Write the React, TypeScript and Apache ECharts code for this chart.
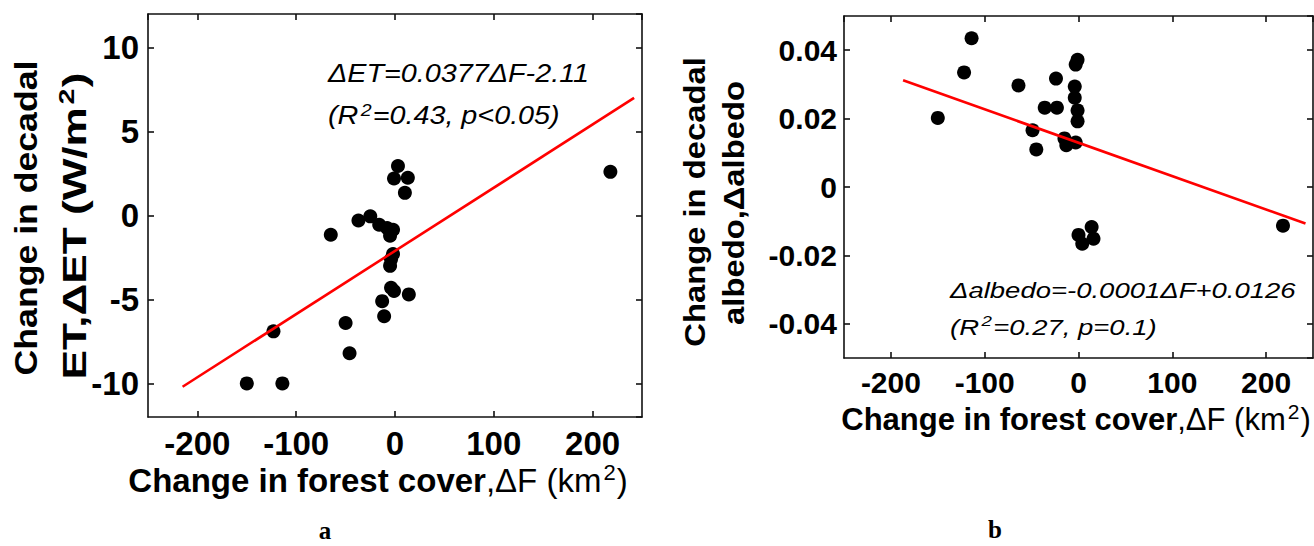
import React, { useEffect, useRef } from 'react';
import * as echarts from 'echarts';

// ---- Panel a: decadal ET change vs forest cover change ----
const etForestChange = [-150, -114, -123, -50, -46, -65, -37, -25, -16, -8, -2, -5, -2, -4, -5, -4, -1, 14, -13, -11, 3, -1, 13, 10, 218];
const etChange = [-10.0, -10.0, -6.9, -6.4, -8.2, -1.15, -0.3, -0.05, -0.55, -0.75, -0.85, -1.2, -2.3, -2.6, -3.0, -4.3, -4.5, -4.7, -5.1, -6.0, 2.95, 2.2, 2.25, 1.35, 2.6];
const etFitX = [-215, 242];
const etFitY = [-10.2, 7.0];

// ---- Panel b: decadal albedo change vs forest cover change ----
const albedoForestChange = [-150, -122, -114, -64, -49, -45, -36, -23, -24, -15, -13, -3, -1, -3, -4, -4, -1, -1, 0, 4, 14, 16, 218];
const albedoChange = [0.0202, 0.0335, 0.0435, 0.0297, 0.0166, 0.011, 0.0232, 0.0232, 0.0317, 0.0142, 0.0122, 0.013, 0.0372, 0.0358, 0.0294, 0.0261, 0.0224, 0.0192, -0.014, -0.0166, -0.0117, -0.0151, -0.0113];
const albedoFitX = [-187, 242];
const albedoFitY = [0.0312, -0.0107];

// ---- Tick labels ----
const forestTicks = [-200, -100, 0, 100, 200];
const etTicks = [-10, -5, 0, 5, 10];
const albedoTicks = [-0.04, -0.02, 0, 0.02, 0.04];

const SANS = '"Liberation Sans", Arial, Helvetica, sans-serif';
const SERIF = '"Liberation Serif", "Times New Roman", serif';

const lineStyle = { color: '#111', width: 1.6 };

const near = (list: number[], v: number) => list.some((t) => Math.abs(t - v) < 1e-9);

function fmtAlbedo(v: number) {
  if (Math.abs(v) < 1e-9) return '0';
  return v.toFixed(2);
}

function makeAxis(gridIndex: number, min: number, max: number, opts: any) {
  const { position, labels, fontSize, ticks, formatter, margin, tickLen } = opts;
  return {
    type: 'value',
    gridIndex,
    position,
    min,
    max,
    splitNumber: 5,
    axisLine: { show: true, onZero: false, lineStyle },
    axisTick: { show: true, inside: true, length: tickLen, lineStyle },
    splitLine: { show: false },
    axisLabel: {
      show: labels,
      margin,
      fontSize,
      fontWeight: 'bold',
      fontFamily: SANS,
      color: '#000',
      showMinLabel: false,
      showMaxLabel: false,
      formatter: (v: number) => (near(ticks, v) ? formatter(v) : ''),
    },
  };
}

// Rich styles giving a raised superscript: base tokens are centred in a tall
// line box, the superscript (short line box) sits at the top of that line.
function supRich(baseFonts: Record<string, string>, baseLH: number, supFont: string, supLH: number) {
  const rich: any = {
    s: { font: supFont, lineHeight: supLH, verticalAlign: 'top', padding: [0, 1, 0, 2], fill: '#000' },
  };
  for (const k of Object.keys(baseFonts)) {
    rich[k] = { font: baseFonts[k], lineHeight: baseLH, verticalAlign: 'middle', fill: '#000' };
  }
  return rich;
}

export default function App() {
  const ref = useRef<HTMLDivElement>(null);
  useEffect(() => {
    if (!ref.current) return;
    const chart = echarts.init(ref.current, undefined, { renderer: 'svg' });
    const pairs = (xs: number[], ys: number[]) => xs.map((x, i) => [x, ys[i]]);
    const intFmt = (v: number) => String(Math.round(v));

    const option: any = {
      animation: false,
      backgroundColor: '#fff',
      grid: [
        { left: 148, top: 14, width: 494, height: 403 },
        { left: 844, top: 16, width: 469, height: 342 },
      ],
      xAxis: [
        makeAxis(0, -250, 250, { position: 'bottom', labels: true, fontSize: 33, ticks: forestTicks, formatter: intFmt, margin: 10, tickLen: 6 }),
        makeAxis(0, -250, 250, { position: 'top', labels: false, fontSize: 33, ticks: forestTicks, formatter: intFmt, margin: 10, tickLen: 6 }),
        makeAxis(1, -250, 250, { position: 'bottom', labels: true, fontSize: 30, ticks: forestTicks, formatter: intFmt, margin: 9, tickLen: 6 }),
        makeAxis(1, -250, 250, { position: 'top', labels: false, fontSize: 30, ticks: forestTicks, formatter: intFmt, margin: 9, tickLen: 6 }),
      ],
      yAxis: [
        makeAxis(0, -12, 12, { position: 'left', labels: true, fontSize: 33, ticks: etTicks, formatter: intFmt, margin: 9, tickLen: 6 }),
        makeAxis(0, -12, 12, { position: 'right', labels: false, fontSize: 33, ticks: etTicks, formatter: intFmt, margin: 9, tickLen: 6 }),
        makeAxis(1, -0.05, 0.05, { position: 'left', labels: true, fontSize: 30, ticks: albedoTicks, formatter: fmtAlbedo, margin: 7, tickLen: 6 }),
        makeAxis(1, -0.05, 0.05, { position: 'right', labels: false, fontSize: 30, ticks: albedoTicks, formatter: fmtAlbedo, margin: 7, tickLen: 6 }),
      ],
      series: [
        {
          type: 'scatter', xAxisIndex: 0, yAxisIndex: 0, data: pairs(etForestChange, etChange),
          symbol: 'circle', symbolSize: 14, itemStyle: { color: '#000', opacity: 1 }, z: 2,
        },
        {
          type: 'line', xAxisIndex: 0, yAxisIndex: 0, data: pairs(etFitX, etFitY),
          showSymbol: false, symbol: 'none', lineStyle: { color: '#ff0000', width: 2.6 }, z: 3,
        },
        {
          type: 'scatter', xAxisIndex: 2, yAxisIndex: 2, data: pairs(albedoForestChange, albedoChange),
          symbol: 'circle', symbolSize: 14, itemStyle: { color: '#000', opacity: 1 }, z: 2,
        },
        {
          type: 'line', xAxisIndex: 2, yAxisIndex: 2, data: pairs(albedoFitX, albedoFitY),
          showSymbol: false, symbol: 'none', lineStyle: { color: '#ff0000', width: 2.6 }, z: 3,
        },
      ],
      graphic: [
        // Panel a y-axis title
        {
          type: 'text', x: 26, y: 218, rotation: Math.PI / 2, scaleX: 1.15,
          style: { text: 'Change in decadal', font: `bold 31px ${SANS}`, fill: '#000', align: 'center', verticalAlign: 'middle' },
        },
        {
          type: 'text', x: 74, y: 226, rotation: Math.PI / 2, scaleX: 1.3,
          style: {
            text: '{b|ET,ΔET (W/m}{s|2}{b|)}', align: 'center', verticalAlign: 'middle', fill: '#000',
            rich: supRich({ b: `bold 34px ${SANS}` }, 38, `bold 22px ${SANS}`, 18),
          },
        },
        // Panel a x-axis title
        {
          type: 'text', x: 378, y: 480,
          style: {
            text: '{b|Change in forest cover}{r|,ΔF (km}{s|2}{r|)}', align: 'center', verticalAlign: 'middle', fill: '#000',
            rich: supRich({ b: `bold 33px ${SANS}`, r: `33px ${SANS}` }, 38, `22px ${SANS}`, 18),
          },
        },
        // Panel a regression text
        {
          type: 'text', x: 328, y: 74, scaleX: 1.15,
          style: { text: 'ΔET=0.0377ΔF-2.11', font: `italic 25px ${SANS}`, fill: '#000', align: 'left', verticalAlign: 'middle' },
        },
        {
          type: 'text', x: 328, y: 116, scaleX: 1.15,
          style: {
            text: '{r|(R}{s|2}{r|=0.43, p<0.05)}', align: 'left', verticalAlign: 'middle', fill: '#000',
            rich: supRich({ r: `italic 25px ${SANS}` }, 30, `italic 17px ${SANS}`, 14),
          },
        },
        // Panel b y-axis title
        {
          type: 'text', x: 695, y: 202, rotation: Math.PI / 2, scaleX: 1.13,
          style: { text: 'Change in decadal', font: `bold 29px ${SANS}`, fill: '#000', align: 'center', verticalAlign: 'middle' },
        },
        {
          type: 'text', x: 734, y: 203, rotation: Math.PI / 2, scaleX: 1.13,
          style: { text: 'albedo,Δalbedo', font: `bold 29px ${SANS}`, fill: '#000', align: 'center', verticalAlign: 'middle' },
        },
        // Panel b x-axis title
        {
          type: 'text', x: 1076, y: 419,
          style: {
            text: '{b|Change in forest cover}{r|,ΔF (km}{s|2}{r|)}', align: 'center', verticalAlign: 'middle', fill: '#000',
            rich: supRich({ b: `bold 31px ${SANS}`, r: `31px ${SANS}` }, 36, `21px ${SANS}`, 17),
          },
        },
        // Panel b regression text
        {
          type: 'text', x: 950, y: 290, scaleX: 1.25,
          style: { text: 'Δalbedo=-0.0001ΔF+0.0126', font: `italic 22px ${SANS}`, fill: '#000', align: 'left', verticalAlign: 'middle' },
        },
        {
          type: 'text', x: 950, y: 327, scaleX: 1.25,
          style: {
            text: '{r|(R}{s|2}{r|=0.27, p=0.1)}', align: 'left', verticalAlign: 'middle', fill: '#000',
            rich: supRich({ r: `italic 22px ${SANS}` }, 27, `italic 15px ${SANS}`, 13),
          },
        },
        // Panel letters
        { type: 'text', x: 325, y: 530, style: { text: 'a', font: `bold 25px ${SERIF}`, fill: '#000', align: 'center', verticalAlign: 'middle' } },
        { type: 'text', x: 995, y: 529, style: { text: 'b', font: `bold 25px ${SERIF}`, fill: '#000', align: 'center', verticalAlign: 'middle' } },
      ],
    };
    chart.setOption(option);
    return () => chart.dispose();
  }, []);

  return (
    <div
      ref={ref}
      style={{ position: 'absolute', left: 0, top: 0, width: 1314, height: 546, background: '#fff' }}
    />
  );
}
